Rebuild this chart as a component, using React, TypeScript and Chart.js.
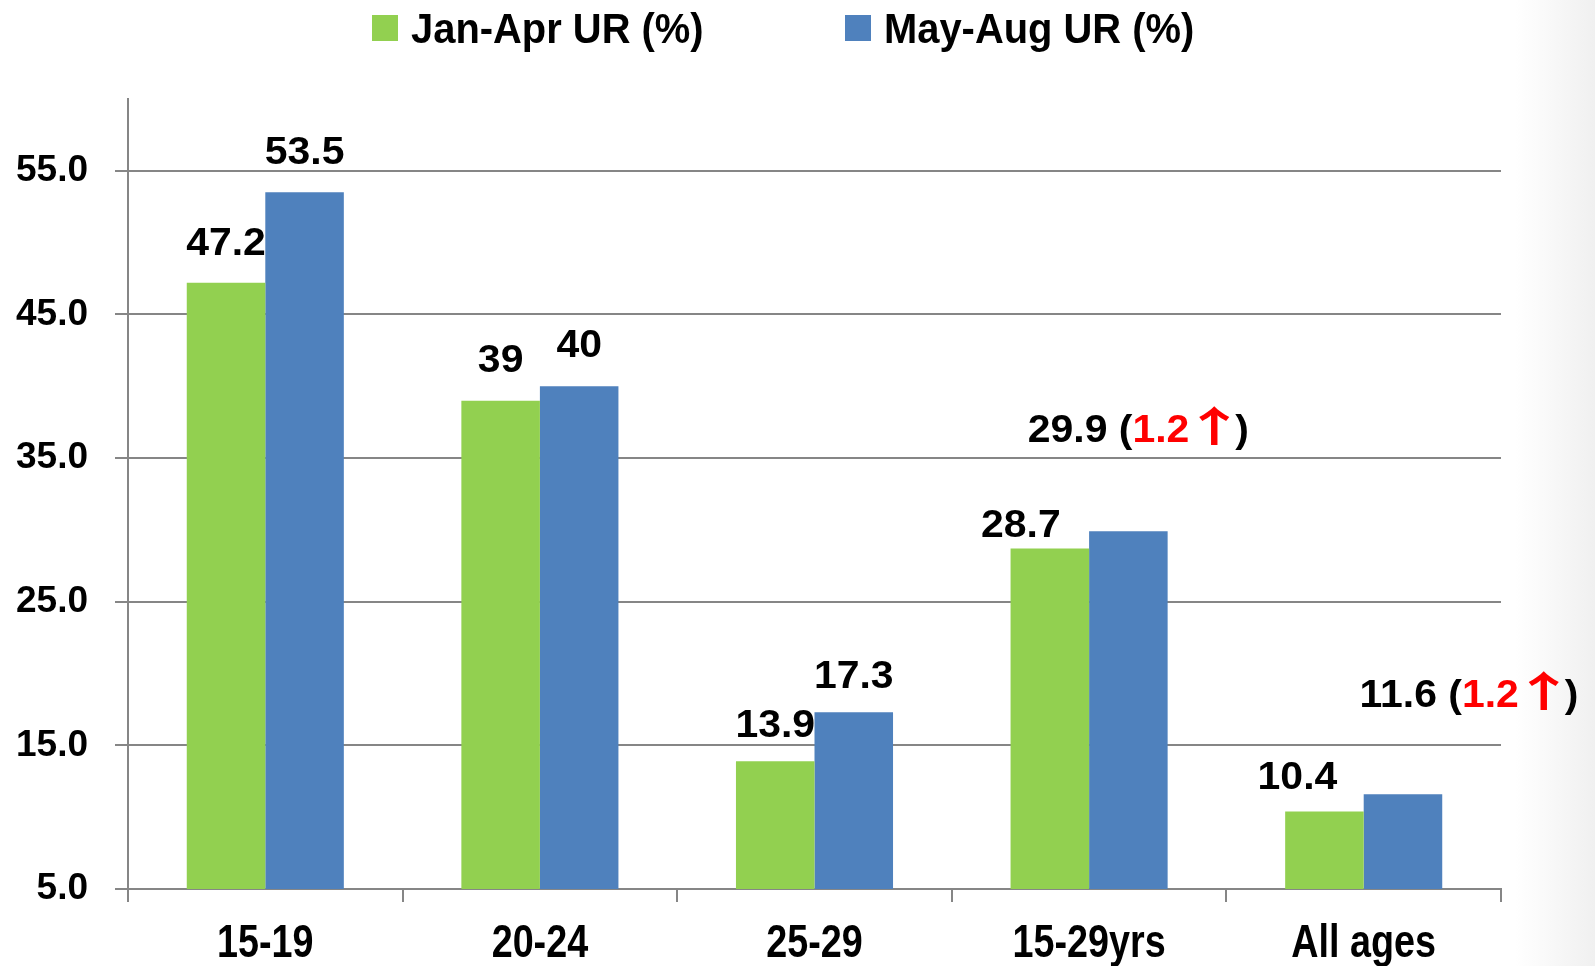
import React, { useEffect, useRef } from "react";
import { Chart, registerables } from "chart.js";

Chart.register(...registerables);

// ---------- data ----------
const categories = ["15-19", "20-24", "25-29", "15-29yrs", "All ages"];
const seriesNames = ["Jan-Apr UR (%)", "May-Aug UR (%)"];
const janApr = [47.2, 39, 13.9, 28.7, 10.4];
const mayAug = [53.5, 40, 17.3, 29.9, 11.6];
const janAprLabels = ["47.2", "39", "13.9", "28.7", "10.4"];
const mayAugLabels = ["53.5", "40", "17.3", "29.9", "11.6"];
const mayAugChange: (string | null)[] = [null, null, null, "1.2", "1.2"];
const yTicks = [5, 15, 25, 35, 45, 55];
const yMin = 5;
const yMax = 60;

// ---------- label placement (px offsets from default spot above bar) ----------
const janAprLabelShift = [[0, -2], [0, -3], [0, 2], [-29, 14], [-27, 4]];
const mayAugLabelShift = [[0, -2], [0, -3], [0, 2], [10, -63], [66, -61]];

// ---------- styles ----------
const GREEN = "#92D050";
const BLUE = "#4F81BD";
const GRID = "#868686";
const RED = "#FF0000";
const SANS = "'Liberation Sans', Arial, sans-serif";
const LABEL_FONT = `bold 39px ${SANS}`;
const LABEL_XSCALE = 1.05;
const ARROW_FONT = `bold 42px 'Noto Sans CJK SC', 'DejaVu Sans', sans-serif`;
const ARROW_XSCALE = 1.5;
const LEGEND_FONT = `bold 42px ${SANS}`;
const LEGEND_XSCALE = 0.95;
const LEGEND_ITEM_X = [372, 845];
const XLABEL_FONT = `bold 46px ${SANS}`;
const XLABEL_XSCALE = 0.82;
const XLABEL_BASELINE = 957;

function measure(ctx: CanvasRenderingContext2D, t: string, font: string, sx: number) {
  ctx.font = font;
  return ctx.measureText(t).width * sx;
}

function drawText(
  ctx: CanvasRenderingContext2D,
  t: string,
  x: number,
  y: number,
  font: string,
  color: string,
  sx: number
) {
  ctx.save();
  ctx.font = font;
  ctx.fillStyle = color;
  ctx.textAlign = "left";
  ctx.textBaseline = "alphabetic";
  ctx.translate(x, y);
  ctx.scale(sx, 1);
  ctx.fillText(t, 0, 0);
  ctx.restore();
}

const valueLabelPlugin = {
  id: "valueLabels",
  afterDatasetsDraw(chart: any) {
    const ctx = chart.ctx as CanvasRenderingContext2D;
    chart.data.datasets.forEach((_ds: any, di: number) => {
      const meta = chart.getDatasetMeta(di);
      meta.data.forEach((bar: any, i: number) => {
        const shift = di === 0 ? janAprLabelShift[i] : mayAugLabelShift[i];
        const txt = di === 0 ? janAprLabels[i] : mayAugLabels[i];
        const chg = di === 1 ? mayAugChange[i] : null;
        type Part = { t: string; c: string; f: string; s: number; ink?: boolean };
        const parts: Part[] = [];
        parts.push({ t: txt + (chg ? " (" : ""), c: "#000", f: LABEL_FONT, s: LABEL_XSCALE });
        if (chg) {
          parts.push({ t: chg, c: RED, f: LABEL_FONT, s: LABEL_XSCALE });
          parts.push({ t: "\u2191", c: RED, f: ARROW_FONT, s: ARROW_XSCALE, ink: true });
          parts.push({ t: ")", c: "#000", f: LABEL_FONT, s: LABEL_XSCALE });
        }
        const info = parts.map((p) => {
          ctx.font = p.f;
          const m = ctx.measureText(p.t);
          if (p.ink) {
            const L = m.actualBoundingBoxLeft;
            const R = m.actualBoundingBoxRight;
            const inkW = (L + R) * p.s;
            return { w: inkW + 16, dx: 10 + L * p.s };
          }
          return { w: m.width * p.s, dx: 0 };
        });
        const total = info.reduce((a, b) => a + b.w, 0);
        let x = bar.x + shift[0] - total / 2;
        const y = bar.y - 26 + shift[1];
        parts.forEach((p, k) => {
          drawText(ctx, p.t, x + info[k].dx, y, p.f, p.c, p.s);
          x += info[k].w;
        });
      });
    });
  },
};

const xLabelPlugin = {
  id: "xLabels",
  afterDraw(chart: any) {
    const ctx = chart.ctx as CanvasRenderingContext2D;
    const xs = chart.scales.x;
    (chart.data.labels as string[]).forEach((lab, i) => {
      const cx = xs.getPixelForTick(i);
      const w = measure(ctx, lab, XLABEL_FONT, XLABEL_XSCALE);
      drawText(ctx, lab, cx - w / 2, XLABEL_BASELINE, XLABEL_FONT, "#000", XLABEL_XSCALE);
    });
  },
};

const legendPlugin = {
  id: "customLegend",
  afterDraw(chart: any) {
    const ctx = chart.ctx as CanvasRenderingContext2D;
    const colors = [GREEN, BLUE];
    const box = 26;
    const boxGap = 13;
    seriesNames.forEach((n, i) => {
      const x = LEGEND_ITEM_X[i];
      ctx.save();
      ctx.fillStyle = colors[i];
      ctx.fillRect(x, 15, box, box);
      ctx.restore();
      drawText(ctx, n, x + box + boxGap, 43, LEGEND_FONT, "#000", LEGEND_XSCALE);
    });
  },
};

export default function App() {
  const ref = useRef<HTMLCanvasElement | null>(null);

  useEffect(() => {
    if (!ref.current) return;
    const chart = new Chart(ref.current, {
      type: "bar",
      data: {
        labels: categories,
        datasets: [
          {
            label: seriesNames[0],
            data: janApr,
            backgroundColor: GREEN,
            borderWidth: 0,
            categoryPercentage: 0.572,
            barPercentage: 1,
          },
          {
            label: seriesNames[1],
            data: mayAug,
            backgroundColor: BLUE,
            borderWidth: 0,
            categoryPercentage: 0.572,
            barPercentage: 1,
          },
        ],
      },
      options: {
        responsive: false,
        animation: false,
        devicePixelRatio: 1,
        events: [],
        layout: { padding: { top: 99, right: 94, left: 0, bottom: 0 } },
        plugins: {
          legend: { display: false },
          tooltip: { enabled: false },
          title: { display: false },
        },
        scales: {
          x: {
            grid: {
              display: true,
              drawOnChartArea: false,
              drawTicks: true,
              tickLength: 13,
              color: GRID,
              lineWidth: 2,
              offset: true,
            },
            border: { display: true, color: GRID, width: 2 },
            ticks: { display: false, autoSkip: false },
            afterFit: (scale: any) => {
              scale.height = 77;
            },
          },
          y: {
            min: yMin,
            max: yMax,
            afterBuildTicks: (scale: any) => {
              scale.ticks = yTicks.map((v) => ({ value: v }));
            },
            grid: {
              color: GRID,
              lineWidth: 2,
              tickLength: 13,
              drawTicks: true,
            },
            border: { display: true, color: GRID, width: 2 },
            ticks: {
              color: "#000",
              padding: 27,
              font: { family: SANS, size: 37, weight: "bold" },
              callback: (v: any) => Number(v).toFixed(1),
            },
            afterFit: (scale: any) => {
              scale.width = 128;
            },
          },
        },
      },
      plugins: [valueLabelPlugin, xLabelPlugin, legendPlugin],
    } as any);
    return () => chart.destroy();
  }, []);

  return (
    <div
      style={{
        position: "fixed",
        left: 0,
        top: 0,
        width: 1595,
        height: 966,
        background: "linear-gradient(to right, #ffffff 0%, #ffffff 95%, #f0f0f0 100%)",
      }}
    >
      <canvas
        ref={ref}
        width={1595}
        height={966}
        style={{ display: "block", width: 1595, height: 966 }}
      />
    </div>
  );
}
